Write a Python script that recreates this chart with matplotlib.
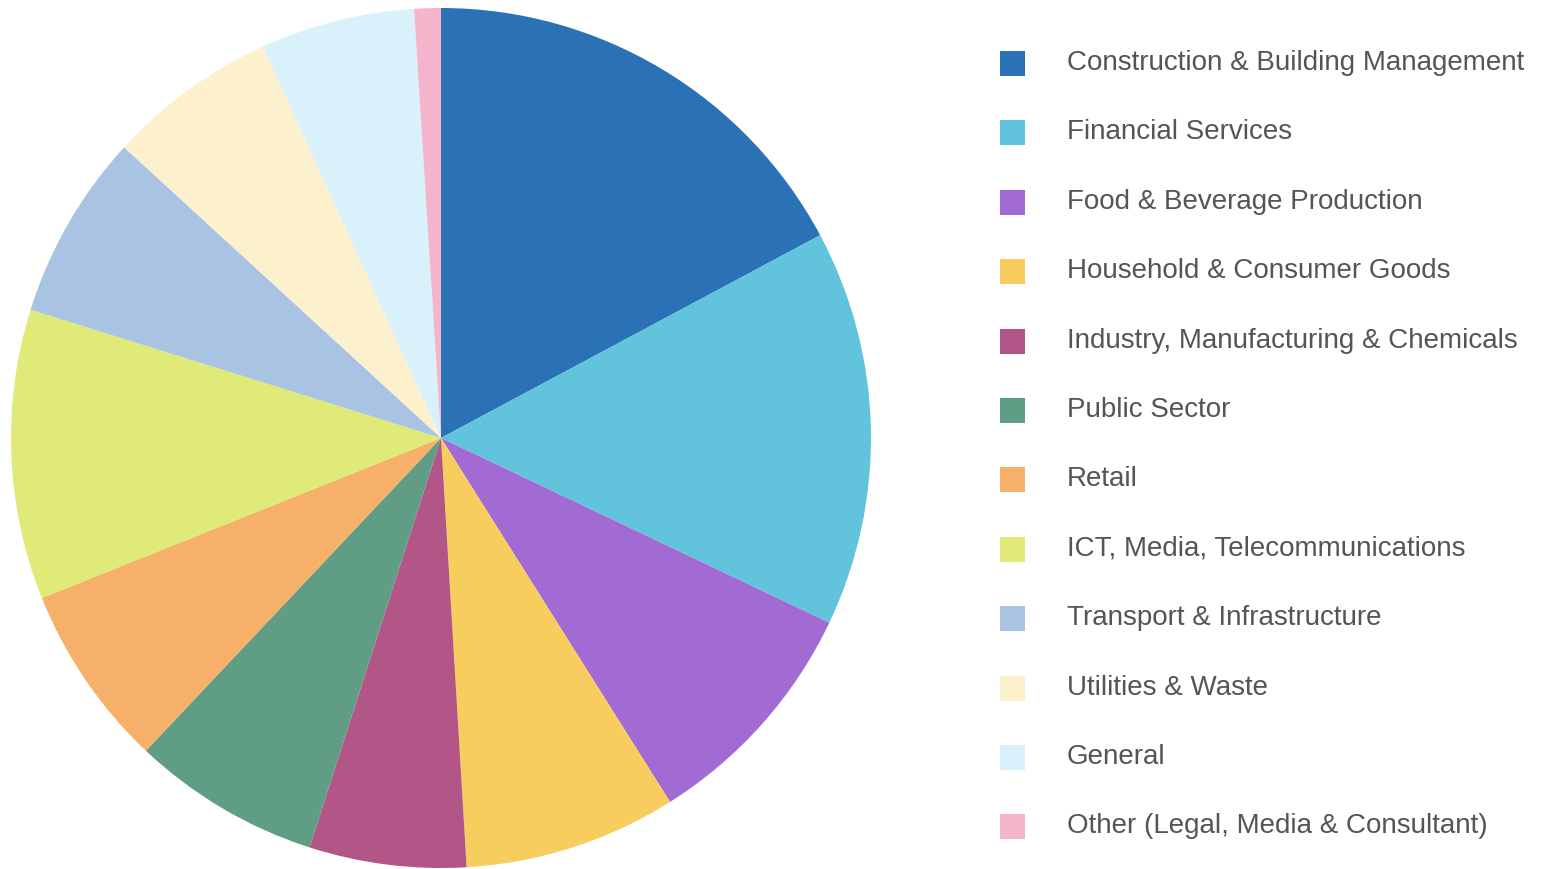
import matplotlib
matplotlib.use("Agg")
import matplotlib.pyplot as plt
from matplotlib.patches import Rectangle

categories = [
    "Construction & Building Management",
    "Financial Services",
    "Food & Beverage Production",
    "Household & Consumer Goods",
    "Industry, Manufacturing & Chemicals",
    "Public Sector",
    "Retail",
    "ICT, Media, Telecommunications",
    "Transport & Infrastructure",
    "Utilities & Waste",
    "General",
    "Other (Legal, Media & Consultant)",
]
values = [17.2, 14.9, 9.0, 8.0, 5.9, 7.1, 6.9, 10.9, 7.0, 6.4, 5.8, 1.0]
colors = ["#2a72b5", "#62c3dc", "#a26ad3", "#f7cd5d", "#b25688", "#5f9e85",
          "#f6b06a", "#dfea78", "#a9c4e3", "#fdf0cd", "#d9f1fa", "#f4b5cc"]

W, H = 1554, 869
fig = plt.figure(figsize=(W / 100, H / 100), dpi=100)
fig.patch.set_facecolor("white")

cx, cy, r = 441, 438, 430
ax = fig.add_axes([(cx - r) / W, (H - cy - r) / H, 2 * r / W, 2 * r / H])
ax.pie(values, colors=colors, startangle=90, counterclock=False,
       radius=1.0, wedgeprops=dict(linewidth=0))
ax.set_xlim(-1, 1)
ax.set_ylim(-1, 1)
ax.set_aspect("equal")
ax.axis("off")

# legend
y0, dy = 63, 69.4
for i, (lab, col) in enumerate(zip(categories, colors)):
    y = y0 + i * dy
    fig.patches.append(Rectangle((1000 / W, (H - y - 13) / H), 25 / W, 25 / H,
                                 transform=fig.transFigure, facecolor=col,
                                 edgecolor="none"))
    fig.text(1067 / W, (H - y) / H, lab, fontsize=20, color="#555555",
             family="Liberation Sans", va="center", ha="left")

fig.savefig("out.png", dpi=100, facecolor="white")
